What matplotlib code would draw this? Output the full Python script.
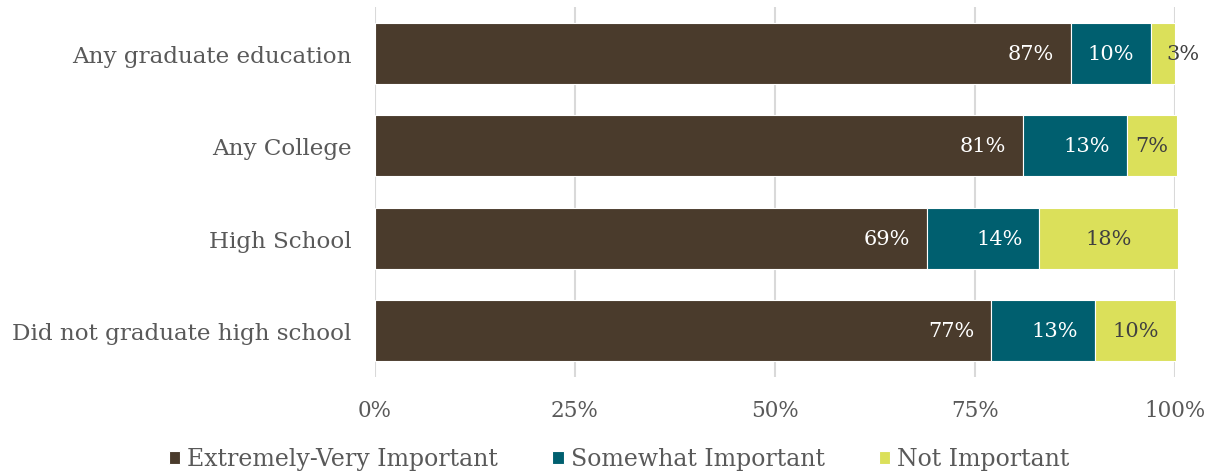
import matplotlib.pyplot as plt
import matplotlib
from matplotlib.ticker import PercentFormatter

matplotlib.use('agg')

categories = ['Any graduate education', 'Any College', 'High School',
              'Did not graduate high school']
series_names = ['Extremely-Very Important', 'Somewhat Important', 'Not Important']
very_important = [87.0, 81.0, 69.0, 77.0]
somewhat_important = [10.0, 13.0, 14.0, 13.0]
not_important = [3.0, 6.3, 17.4, 10.1]
label_very = ['87%', '81%', '69%', '77%']
label_somewhat = ['10%', '13%', '14%', '13%']
label_not = ['3%', '7%', '18%', '10%']

colors = ['#4a3b2c', '#005f6f', '#dbe05a']
text_colors = ['white', 'white', '#404040']
grey = '#595959'

plt.rcParams['font.family'] = ['DejaVu Serif']

fig = plt.figure(figsize=(12.12, 4.77), dpi=100)
ax = fig.add_axes([375 / 1212, 1 - 378 / 477, 800 / 1212, 370 / 477])

y = list(range(len(categories)))
left = [0.0] * len(categories)
all_values = [very_important, somewhat_important, not_important]
all_labels = [label_very, label_somewhat, label_not]

for i, (vals, labs) in enumerate(zip(all_values, all_labels)):
    bars = ax.barh(y, vals, left=left, height=0.66, color=colors[i],
                   edgecolor='white', linewidth=0.8, label=series_names[i],
                   zorder=2)
    for b in bars:
        b.set_clip_on(False)
    for yy, v, l, lab in zip(y, vals, left, labs):
        if i < 2:
            ax.annotate(lab, (l + v, yy), xytext=(-12, 0), textcoords='offset points',
                        ha='right', va='center', color=text_colors[i], fontsize=15,
                        annotation_clip=False, zorder=3)
        else:
            dx = 14 if v < 5 else 0
            ax.annotate(lab, (l + v / 2, yy), xytext=(dx, 0), textcoords='offset points',
                        ha='center', va='center', color=text_colors[i], fontsize=15,
                        annotation_clip=False, zorder=3)
    left = [a + b for a, b in zip(left, vals)]

ax.set_xlim(0, 100)
ax.set_ylim(len(categories) - 0.5, -0.5)
ax.set_yticks(y)
ax.set_yticklabels(categories)
ax.set_xticks([0, 25, 50, 75, 100])
ax.xaxis.set_major_formatter(PercentFormatter(decimals=0))
ax.tick_params(axis='y', length=0, pad=17, labelsize=16.6, labelcolor=grey)
ax.tick_params(axis='x', length=0, pad=16, labelsize=15.5, labelcolor=grey)
ax.grid(axis='x', color='#d9d9d9', linewidth=1.5, zorder=0)
ax.set_axisbelow(True)
for s in ax.spines.values():
    s.set_visible(False)

fig.legend(loc='center', bbox_to_anchor=(0.511, 1 - 460 / 477), ncol=3,
           frameon=False, fontsize=17, handlelength=0.47, handleheight=0.47,
           handletextpad=0.3, columnspacing=2.3, labelcolor=grey)

fig.savefig('out.png', dpi=100)
plt.close()
